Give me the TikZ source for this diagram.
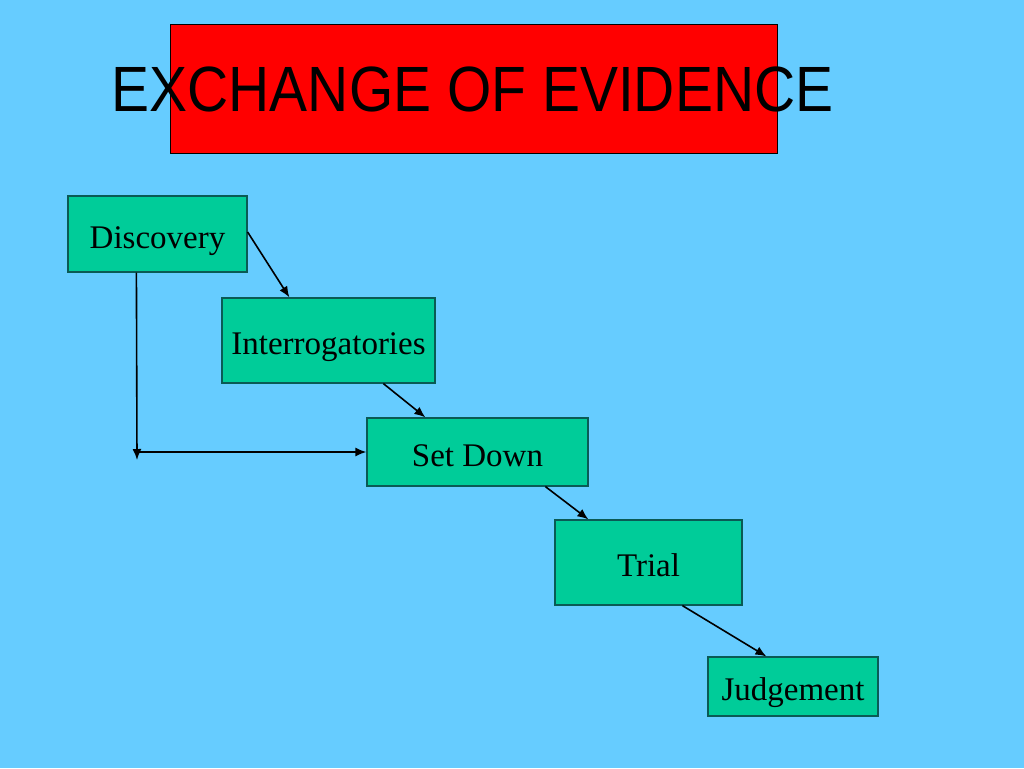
\documentclass[tikz,border=0pt]{standalone}
\usepackage{fontspec}
\setmainfont{Liberation Serif}
\newfontfamily\titlefont{Liberation Sans}
\usetikzlibrary{arrows.meta}
\definecolor{bgblue}{HTML}{66CCFF}
\definecolor{boxgreen}{HTML}{00CC99}
\definecolor{boxedge}{HTML}{0A5A55}
\definecolor{titlered}{HTML}{FF0000}
\tikzset{
  stagebox/.style={draw=boxedge, line width=1.2pt, fill=boxgreen, inner sep=0pt,
    text height=28pt, text depth=0pt,
    font=\fontsize{33}{40}\selectfont, text=black},
  link/.style={line width=1.6pt, -{Latex[length=11pt,width=9pt]}}
}
\begin{document}
\begin{tikzpicture}[x=1pt,y=-1pt]
\fill[bgblue] (0,0) rectangle (1024,768);
\useasboundingbox (0,0) rectangle (1024,768);
\node[draw=black, line width=1pt, fill=titlered, minimum width=607pt, minimum height=128pt, inner sep=0pt] (banner) at (473.5,89) {};
\node[inner sep=0pt, anchor=base] (title) at (472.5,111) {\scalebox{0.89}[1]{\titlefont\fontsize{64}{70}\selectfont EXCHANGE OF EVIDENCE}};
\node[stagebox, minimum width=179pt, minimum height=76pt] (disc) at (157.5,234) {Discovery};
\node[stagebox, minimum width=213pt, minimum height=85pt] (inter) at (328.5,340.5) {Interrogatories};
\node[stagebox, minimum width=221pt, minimum height=68pt] (setd) at (477.5,452) {Set Down};
\node[stagebox, minimum width=187pt, minimum height=85pt] (trial) at (648.5,562.5) {Trial};
\node[stagebox, minimum width=170pt, minimum height=59pt] (judg) at (793,686.5) {Judgement};
\coordinate (corner) at (137,460);
\coordinate (hstart) at (137,452);
\draw[link] ([yshift=2pt]disc.east) -- ([xshift=68pt]inter.north west);
\draw[link] ([xshift=162pt]inter.south west) -- ([xshift=59pt]setd.north west);
\draw[link] ([xshift=179pt]setd.south west) -- ([xshift=34pt]trial.north west);
\draw[link] ([xshift=128pt]trial.south west) -- ([xshift=59pt]judg.north west);
\draw[link] ([xshift=69pt]disc.south west) -- (corner);
\draw[link] (hstart) -- (setd.west);
\end{tikzpicture}
\end{document}
